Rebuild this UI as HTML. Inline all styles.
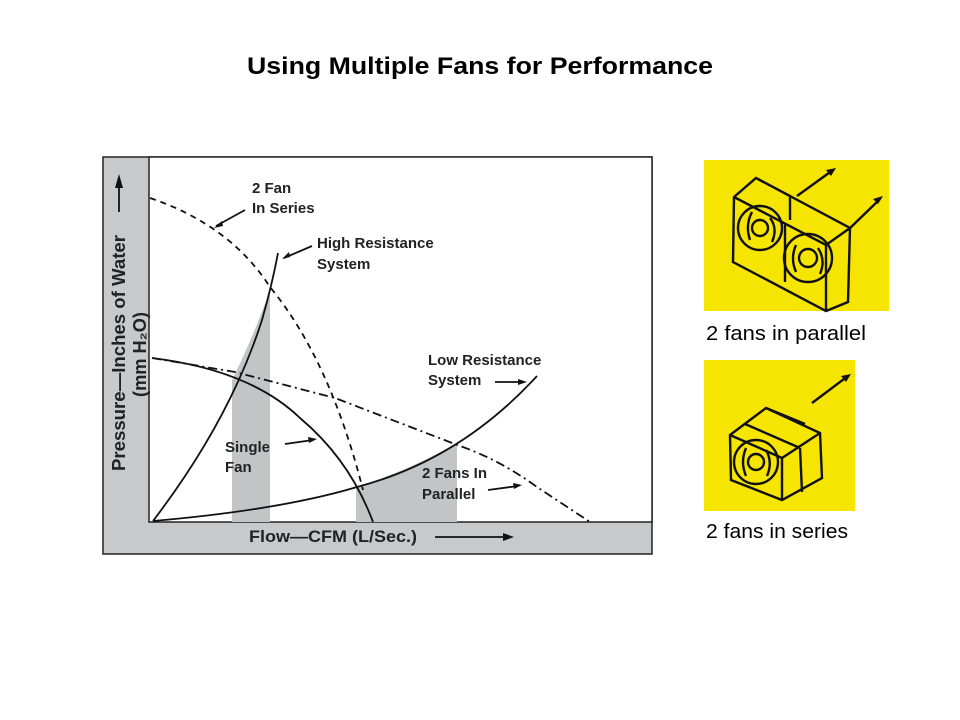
<!DOCTYPE html>
<html><head><meta charset="utf-8"><style>
html,body{margin:0;padding:0;background:#fff;width:960px;height:720px;overflow:hidden}
</style></head><body>
<svg width="960" height="720" viewBox="0 0 960 720" xmlns="http://www.w3.org/2000/svg" font-family="Liberation Sans, Arial, sans-serif">
<rect width="960" height="720" fill="#fff"/>
<text x="247" y="74" font-size="24" font-weight="bold" textLength="466" lengthAdjust="spacingAndGlyphs">Using Multiple Fans for Performance</text>

<rect x="103" y="157" width="549" height="397" fill="#c8c9cb" stroke="#222" stroke-width="1.5"/>
<rect x="149" y="157" width="503" height="365" fill="#fff" stroke="#222" stroke-width="1.5"/>

<path d="M232,380 L232,522 L270,522 L270,290 Q252,340 232,380 Z" fill="#c3c4c6"/>
<path d="M356,487 Q410,470 457,443 L457,522 L356,522 Z" fill="#c3c4c6"/>

<g fill="none" stroke="#111" stroke-width="1.8">
<path d="M150,198 Q230,225 270,287 Q330,360 363,490" stroke-dasharray="6,5"/>
<path d="M153,521 Q230,420 262,320 Q272,285 278,253"/>
<path d="M152,358 Q250,370 300,418 Q350,460 373,522"/>
<path d="M152,358 L235,372 L335,398 L460,446 Q500,460 537,487 L590,522" stroke-dasharray="9,4,2,4"/>
<path d="M153,521 Q280,510 357,487 Q460,460 537,376"/>
<path d="M245,210 L216,226"/>
<path d="M312,246 L284,258"/>
<path d="M495,382 L523,382"/>
<path d="M285,444 L313,440"/>
<path d="M488,490 L518,486"/>
<path d="M435,537 L508,537"/>
</g>
<g fill="#111">
<path d="M214,228 L222,221 L223,226 Z"/>
<path d="M282,259 L289,252 L290,257 Z"/>
<path d="M527,382 L518,379 L518,385 Z"/>
<path d="M317,439 L308,437 L309,443 Z"/>
<path d="M522,485 L513,483 L514,489 Z"/>
<path d="M514,537 L503,533 L503,541 Z"/>
<path d="M119,174 L115,188 L123,188 Z"/>
</g>
<line x1="119" y1="188" x2="119" y2="212" stroke="#111" stroke-width="1.8"/>

<g font-size="15" font-weight="bold" fill="#222">
<text x="252" y="193">2 Fan</text>
<text x="252" y="213">In Series</text>
<text x="317" y="248">High Resistance</text>
<text x="317" y="269">System</text>
<text x="428" y="365">Low Resistance</text>
<text x="428" y="385">System</text>
<text x="225" y="452">Single</text>
<text x="225" y="472">Fan</text>
<text x="422" y="478">2 Fans In</text>
<text x="422" y="499">Parallel</text>
<text x="249" y="542" font-size="17" textLength="168" lengthAdjust="spacingAndGlyphs">Flow—CFM  (L/Sec.)</text>
<text transform="translate(125,471) rotate(-90)" font-size="18" textLength="236" lengthAdjust="spacingAndGlyphs">Pressure—Inches of Water</text>
<text transform="translate(146,397) rotate(-90)" font-size="18" textLength="85" lengthAdjust="spacingAndGlyphs">(mm H₂O)</text>
</g>

<rect x="704" y="160" width="185" height="151" fill="#f6e500"/>
<rect x="704" y="360" width="151" height="151" fill="#f6e500"/>
<g fill="none" stroke="#111" stroke-width="2.4">
<path d="M734,197 L756,178 L850,228 L848,302 L826,311 L733,262 Z"/>
<path d="M756,178 L790,196 M790,196 L790,220 M734,197 L826,245 L850,228 M826,245 L826,311 M785,224 L785,282"/>
<circle cx="760" cy="228" r="22"/><circle cx="760" cy="228" r="8"/>
<circle cx="808" cy="258" r="24"/><circle cx="808" cy="258" r="9"/>
<path d="M752,212 Q745,225 750,240 M770,218 Q778,228 772,242 M796,245 Q790,258 796,272 M818,248 Q826,260 820,274"/>
<path d="M797,196 L833,170 M848,230 L880,199"/>
<path d="M730,435 L766,408 L820,433 L822,478 L782,500 L731,480 Z"/>
<path d="M730,435 L782,458 L820,433 M782,458 L782,500 M745,424 L800,448 M800,448 L802,492 M766,408 L805,424"/>
<circle cx="756" cy="462" r="22"/><circle cx="756" cy="462" r="8"/>
<path d="M746,448 Q740,462 746,476 M766,450 Q773,462 767,476"/>
<path d="M812,403 L848,376"/>
</g>
<g fill="#111">
<path d="M836,168 L826,170 L831,176 Z"/>
<path d="M883,196 L873,199 L878,204 Z"/>
<path d="M851,374 L841,376 L846,382 Z"/>
</g>
<g font-size="20" fill="#000" font-family="Liberation Sans, DejaVu Sans, sans-serif">
<text x="706" y="340" textLength="160" lengthAdjust="spacingAndGlyphs">2 fans in parallel</text>
<text x="706" y="538" textLength="142" lengthAdjust="spacingAndGlyphs">2 fans in series</text>
</g>
</svg>
</body></html>
